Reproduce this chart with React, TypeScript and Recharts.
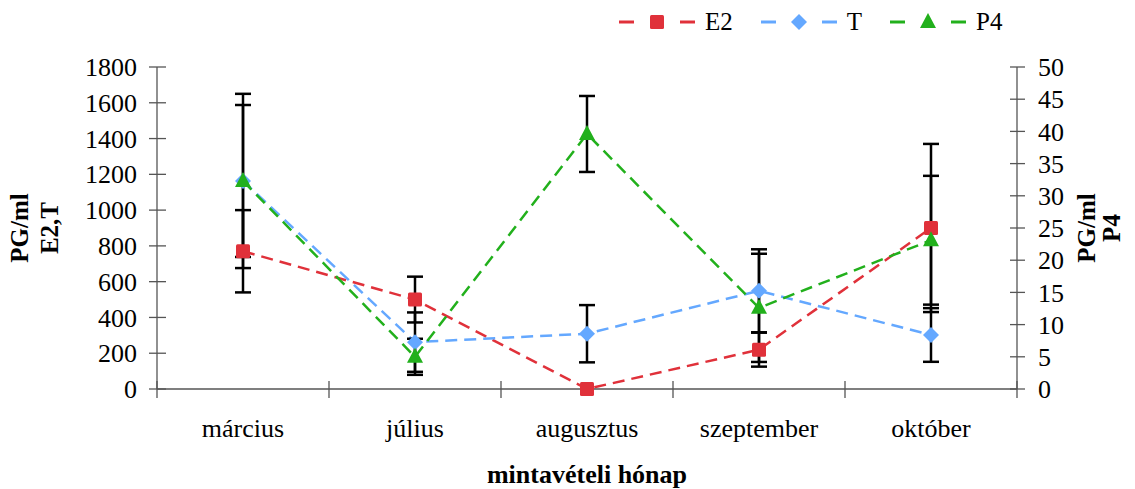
import React from 'react'
import { ComposedChart, Line, XAxis, YAxis, ErrorBar, Legend, Label } from 'recharts'

const months = ['március', 'július', 'augusztus', 'szeptember', 'október']
const e2 = [770, 500, 0, 220, 900]
const e2Err = [230, 128, 0, 95, 470]
const t = [1163, 262, 309, 549, 302]
const tErr = [487, 166, 160, 232, 150]
const p4 = [32.3, 5.0, 39.6, 12.6, 23.1]
const p4Err = [11.8, 2.8, 5.9, 8.4, 10.0]

const leftTicks = [0, 200, 400, 600, 800, 1000, 1200, 1400, 1600, 1800]
const rightTicks = [0, 5, 10, 15, 20, 25, 30, 35, 40, 45, 50]

const data = months.map((m, i) => ({
  month: m,
  e2: e2[i],
  e2Err: e2Err[i],
  t: t[i],
  tErr: tErr[i],
  p4: p4[i],
  p4Err: p4Err[i],
}))

const COLORS = {
  e2: '#e0313a',
  t: '#64a8ff',
  p4: '#22b01c',
  axis: '#555555',
}

const FONT = '"Liberation Serif", "Times New Roman", serif'
const HALF_BAND = 86

function Marker({ kind, cx, cy }: { kind: string; cx: number; cy: number }) {
  if (kind === 'square') {
    return <rect x={cx - 7} y={cy - 7} width={14} height={14} rx={1.5} fill={COLORS.e2} />
  }
  if (kind === 'diamond') {
    return <polygon points={`${cx},${cy - 8} ${cx + 8},${cy} ${cx},${cy + 8} ${cx - 8},${cy}`} fill={COLORS.t} />
  }
  return <polygon points={`${cx},${cy - 9} ${cx + 8},${cy + 6} ${cx - 8},${cy + 6}`} fill={COLORS.p4} />
}

const makeDot = (kind: string) => (props: any) => {
  const { cx, cy, index } = props
  if (cx == null || cy == null) return <g key={`d-${kind}-${index}`} />
  return (
    <g key={`d-${kind}-${index}`}>
      <Marker kind={kind} cx={cx} cy={cy} />
    </g>
  )
}

const LeftTick = (props: any) => {
  const { x, y, payload } = props
  return (
    <g>
      <line x1={x - 8} x2={x + 9} y1={y} y2={y} stroke={COLORS.axis} strokeWidth={1.3} />
      <text x={x - 20} y={y} dy="0.35em" textAnchor="end" fontFamily={FONT} fontSize={26} fill="#000">
        {payload.value}
      </text>
    </g>
  )
}

const RightTick = (props: any) => {
  const { x, y, payload } = props
  return (
    <g>
      <line x1={x - 7} x2={x + 8} y1={y} y2={y} stroke={COLORS.axis} strokeWidth={1.3} />
      <text x={x + 21} y={y} dy="0.35em" textAnchor="start" fontFamily={FONT} fontSize={26} fill="#000">
        {payload.value}
      </text>
    </g>
  )
}

const MonthTick = (props: any) => {
  const { x, y, payload, index } = props
  return (
    <g>
      <line x1={x - HALF_BAND} x2={x - HALF_BAND} y1={y - 8} y2={y + 9} stroke={COLORS.axis} strokeWidth={1.3} />
      {index === months.length - 1 && (
        <line x1={x + HALF_BAND} x2={x + HALF_BAND} y1={y - 8} y2={y + 9} stroke={COLORS.axis} strokeWidth={1.3} />
      )}
      <text x={x} y={y + 48} textAnchor="middle" fontFamily={FONT} fontSize={26} fill="#000">
        {payload.value}
      </text>
    </g>
  )
}

// baselines of the rotated two-line axis titles
const AxisTitle = ({ lines, side }: any) => {
  const cy = 228
  const xs = side === 'left' ? [28, 58] : [1095, 1120]
  return (
    <g>
      {lines.map((l: string, i: number) => (
        <text
          key={l}
          x={xs[i]}
          y={cy}
          transform={`rotate(-90 ${xs[i]} ${cy})`}
          textAnchor="middle"
          fontFamily={FONT}
          fontWeight="bold"
          fontSize={25}
          fill="#000"
        >
          {l}
        </text>
      ))}
    </g>
  )
}

const legendItems = [
  { name: 'E2', color: COLORS.e2, kind: 'square' },
  { name: 'T', color: COLORS.t, kind: 'diamond' },
  { name: 'P4', color: COLORS.p4, kind: 'triangle' },
]

const LegendContent = () => (
  <div style={{ display: 'flex', alignItems: 'center', fontFamily: FONT, fontSize: 25, color: '#000' }}>
    {legendItems.map((it) => (
      <div key={it.name} style={{ display: 'flex', alignItems: 'center', marginRight: 28 }}>
        <svg width={76} height={24}>
          <line x1={0} x2={15} y1={12} y2={12} stroke={it.color} strokeWidth={3} />
          <line x1={61} x2={76} y1={12} y2={12} stroke={it.color} strokeWidth={3} />
          <Marker kind={it.kind} cx={38} cy={12} />
        </svg>
        <span style={{ marginLeft: 10, lineHeight: '28px' }}>{it.name}</span>
      </div>
    ))}
  </div>
)

export default function App() {
  return (
    <div style={{ position: 'absolute', left: 0, top: 0, width: 1135, height: 489, background: '#fff' }}>
      <ComposedChart width={1135} height={489} data={data} margin={{ top: 67, right: 0, left: 0, bottom: 0 }}>
        <XAxis
          dataKey="month"
          height={100}
          padding={{ left: HALF_BAND, right: HALF_BAND }}
          axisLine={{ stroke: COLORS.axis, strokeWidth: 1.3 }}
          tickLine={false}
          tickSize={0}
          tickMargin={0}
          tick={<MonthTick />}
          interval={0}
        >
          <Label
            value="mintavételi hónap"
            position="insideBottom"
            offset={6}
            style={{ fontFamily: FONT, fontWeight: 'bold', fontSize: 26, fill: '#000' }}
          />
        </XAxis>
        <YAxis
          yAxisId="left"
          width={157}
          domain={[0, 1800]}
          ticks={leftTicks}
          interval={0}
          axisLine={{ stroke: COLORS.axis, strokeWidth: 1.3 }}
          tickLine={false}
          tickSize={0}
          tickMargin={0}
          tick={<LeftTick />}
        >
          <Label content={<AxisTitle lines={['PG/ml', 'E2,T']} side="left" />} />
        </YAxis>
        <YAxis
          yAxisId="right"
          orientation="right"
          width={118}
          domain={[0, 50]}
          ticks={rightTicks}
          interval={0}
          axisLine={{ stroke: COLORS.axis, strokeWidth: 1.3 }}
          tickLine={false}
          tickSize={0}
          tickMargin={0}
          tick={<RightTick />}
        >
          <Label content={<AxisTitle lines={['PG/ml', 'P4']} side="right" />} />
        </YAxis>
        <Legend
          layout="vertical"
          align="center"
          verticalAlign="middle"
          content={<LegendContent />}
          wrapperStyle={{ top: 8, left: 619, width: 'auto', height: 'auto' }}
        />
        <Line
          yAxisId="left"
          dataKey="e2"
          name="E2"
          stroke={COLORS.e2}
          strokeWidth={2.5}
          strokeDasharray="12 7"
          dot={makeDot('square')}
          activeDot={false}
          isAnimationActive={false}
        >
          <ErrorBar dataKey="e2Err" direction="y" width={8} stroke="#000" strokeWidth={2.5} />
        </Line>
        <Line
          yAxisId="left"
          dataKey="t"
          name="T"
          stroke={COLORS.t}
          strokeWidth={2.5}
          strokeDasharray="12 7"
          dot={makeDot('diamond')}
          activeDot={false}
          isAnimationActive={false}
        >
          <ErrorBar dataKey="tErr" direction="y" width={8} stroke="#000" strokeWidth={2.5} />
        </Line>
        <Line
          yAxisId="right"
          dataKey="p4"
          name="P4"
          stroke={COLORS.p4}
          strokeWidth={2.5}
          strokeDasharray="12 7"
          dot={makeDot('triangle')}
          activeDot={false}
          isAnimationActive={false}
        >
          <ErrorBar dataKey="p4Err" direction="y" width={8} stroke="#000" strokeWidth={2.5} />
        </Line>
      </ComposedChart>
    </div>
  )
}
